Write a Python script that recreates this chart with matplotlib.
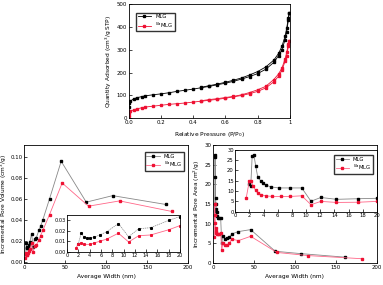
import matplotlib
matplotlib.use("Agg")
import matplotlib.pyplot as plt

# ---- Isotherm data ----
p_ads = [0.0, 0.005, 0.01, 0.03, 0.05, 0.08, 0.1, 0.15, 0.2, 0.25, 0.3, 0.35, 0.4, 0.45, 0.5, 0.55, 0.6, 0.65, 0.7, 0.75, 0.8, 0.85, 0.9, 0.93, 0.95, 0.97, 0.98, 0.99, 0.995]
mlg_ads = [50, 65, 75, 85, 90, 95, 98, 103, 107, 112, 118, 123, 128, 134, 140, 147, 154, 162, 172, 183, 196, 215, 245, 275, 300, 345, 380, 430, 460]
p_des = [0.995, 0.99, 0.98, 0.97, 0.95, 0.93, 0.9, 0.85, 0.8, 0.75, 0.7, 0.65, 0.6, 0.55, 0.5, 0.45]
mlg_des = [460, 440, 395, 360, 315, 285, 255, 225, 205, 190, 177, 167, 158, 150, 143, 136]
na_ads = [10, 22, 30, 37, 41, 46, 49, 53, 57, 61, 64, 67, 71, 75, 79, 83, 88, 94, 100, 108, 118, 133, 160, 185, 210, 250, 275, 315, 337]
na_des = [337, 325, 290, 260, 220, 195, 170, 140, 125, 113, 103, 96, 91, 86, 82, 77]

# ---- Pore volume (cm3/g) ----
w_mlg = [2.0, 2.5, 3.0, 3.5, 4.0, 4.8, 5.8, 7.0, 9.1, 10.9, 12.7, 14.8, 18.0, 20.0, 22.8, 31.0, 45.2, 75.8, 108.0, 173.0]
pv_mlg = [0.0077, 0.0177, 0.0143, 0.013, 0.013, 0.014, 0.016, 0.019, 0.027, 0.0143, 0.022, 0.023, 0.030, 0.0337, 0.040, 0.060, 0.0956, 0.0568, 0.063, 0.0546]
w_na = [1.6, 2.0, 2.4, 3.0, 4.0, 4.8, 5.8, 7.0, 9.1, 10.9, 12.7, 14.8, 18.0, 20.0, 22.8, 31.0, 46.4, 78.6, 116.5, 180.0]
pv_na = [0.0037, 0.0077, 0.0083, 0.007, 0.007, 0.0083, 0.010, 0.012, 0.0177, 0.0093, 0.0153, 0.016, 0.021, 0.025, 0.030, 0.045, 0.075, 0.053, 0.058, 0.048]

# ---- Pore area (m2/g) ----
wa_mlg = [1.9, 2.2, 2.4, 2.65, 2.9, 3.2, 3.6, 3.9, 4.4, 5.0, 6.2, 7.8, 9.4, 10.7, 12.1, 14.3, 17.4, 20.0, 23.0, 31.0, 46.0, 76.0, 107.0, 161.0]
pa_mlg = [13.2, 12.3, 27.0, 27.4, 22.0, 16.6, 15.0, 13.7, 12.9, 12.0, 11.5, 11.5, 11.5, 5.1, 6.9, 6.0, 6.3, 6.5, 7.4, 8.0, 8.5, 3.0, 2.4, 1.5]
wa_na = [1.55, 2.0, 2.25, 2.55, 2.9, 3.2, 3.7, 4.3, 5.2, 6.4, 7.8, 9.4, 10.7, 12.1, 14.3, 17.4, 20.0, 23.0, 31.0, 46.0, 78.0, 116.0, 182.0]
pa_na = [6.5, 14.9, 14.9, 12.3, 10.3, 8.9, 8.2, 7.7, 7.4, 7.4, 7.4, 7.7, 3.4, 5.0, 4.5, 4.6, 5.0, 6.1, 5.7, 6.8, 2.7, 1.9, 1.1]

label_mlg = "MLG"
label_na = "$^{Na}$MLG"

plt.rcParams["font.family"] = "DejaVu Sans"
plt.rcParams["font.size"] = 4.2
plt.rcParams["xtick.labelsize"] = 3.9
plt.rcParams["ytick.labelsize"] = 3.9
plt.rcParams["axes.linewidth"] = 0.6
plt.rcParams["xtick.direction"] = "in"
plt.rcParams["ytick.direction"] = "in"
plt.rcParams["xtick.major.size"] = 2
plt.rcParams["ytick.major.size"] = 2
plt.rcParams["xtick.major.width"] = 0.5
plt.rcParams["ytick.major.width"] = 0.5
plt.rcParams["xtick.major.pad"] = 1.5
plt.rcParams["ytick.major.pad"] = 1.2

RED = "#ee1133"
PINK = "#ff6688"
GRAY = "#888888"

fig = plt.figure(figsize=(3.83, 2.85), dpi=100)

# Top isotherm
ax1 = fig.add_axes([0.336, 0.585, 0.421, 0.40])
ax1.plot(p_ads, mlg_ads, color="black", marker="s", ms=1.8, lw=0.6, label=label_mlg)
ax1.plot(p_des, mlg_des, color="black", marker="s", ms=1.8, lw=0.6)
ax1.plot(p_ads, na_ads, color=RED, marker="s", ms=1.8, lw=0.6, label=label_na)
ax1.plot(p_des, na_des, color=RED, marker="s", ms=1.8, lw=0.6)
ax1.set_xlim(0, 1.0)
ax1.set_ylim(0, 500)
ax1.set_xticks([0.0, 0.2, 0.4, 0.6, 0.8, 1.0])
ax1.set_xticklabels(["0.0", "0.2", "0.4", "0.6", "0.8", "1"])
ax1.set_yticks([0, 100, 200, 300, 400, 500])
ax1.set_xlabel("Relative Pressure (P/P$_0$)", labelpad=3)
ax1.set_ylabel("Quantity Adsorbed (cm$^3$/g STP)", labelpad=2)
ax1.legend(loc="upper left", bbox_to_anchor=(0.03, 0.95), fontsize=3.8, frameon=True,
           fancybox=False, edgecolor="black", handlelength=2.5, borderpad=0.3, labelspacing=0.2)

# Bottom-left pore volume
ax2 = fig.add_axes([0.063, 0.077, 0.428, 0.414])
ax2.plot(w_mlg, pv_mlg, color=GRAY, marker="s", mfc="black", mec="black", ms=1.8, lw=0.6, label=label_mlg)
ax2.plot(w_na, pv_na, color=PINK, marker="s", mfc=RED, mec=RED, ms=1.8, lw=0.6, label=label_na)
ax2.set_xlim(0, 200)
ax2.set_ylim(-0.001, 0.111)
ax2.set_xticks([0, 50, 100, 150, 200])
ax2.set_yticks([0.0, 0.02, 0.04, 0.06, 0.08, 0.10])
ax2.set_yticklabels(["0.00", "0.02", "0.04", "0.06", "0.08", "0.10"])
ax2.set_xlabel("Average Width (nm)", labelpad=3)
ax2.set_ylabel("Incremental Pore Volume (cm$^3$/g)", labelpad=1)
ax2.legend(loc="upper right", bbox_to_anchor=(0.99, 0.96), fontsize=3.8, frameon=True,
           fancybox=False, edgecolor="black", handlelength=2.5, borderpad=0.3, labelspacing=0.2)

ax2i = fig.add_axes([0.175, 0.117, 0.295, 0.128])
ax2i.plot(w_mlg, pv_mlg, color=GRAY, marker="s", mfc="black", mec="black", ms=1.2, lw=0.5, ls=(0, (2, 1)))
ax2i.plot(w_na, pv_na, color=PINK, marker="s", mfc=RED, mec=RED, ms=1.2, lw=0.6)
ax2i.set_xlim(0, 20)
ax2i.set_ylim(0, 0.035)
ax2i.set_xticks(list(range(0, 21, 2)))
ax2i.set_yticks([0.0, 0.01, 0.02, 0.03])
ax2i.set_yticklabels(["0.00", "0.01", "0.02", "0.03"])
ax2i.tick_params(labelsize=3.6, pad=1)

# Bottom-right pore area
ax3 = fig.add_axes([0.556, 0.077, 0.428, 0.414])
ax3.plot(wa_mlg, pa_mlg, color=GRAY, marker="s", mfc="black", mec="black", ms=1.8, lw=0.6)
ax3.plot(wa_na, pa_na, color=PINK, marker="s", mfc=RED, mec=RED, ms=1.8, lw=0.6)
ax3.set_xlim(0, 200)
ax3.set_ylim(0, 30)
ax3.set_xticks([0, 50, 100, 150, 200])
ax3.set_yticks([0, 5, 10, 15, 20, 25, 30])
ax3.set_xlabel("Average Width (nm)", labelpad=3)
ax3.set_ylabel("Incremental Pore Area (m$^2$/g)", labelpad=2)

ax3i = fig.add_axes([0.614, 0.257, 0.370, 0.218])
ax3i.plot(wa_mlg, pa_mlg, color=GRAY, marker="s", mfc="black", mec="black", ms=1.5, lw=0.6, label=label_mlg)
ax3i.plot(wa_na, pa_na, color=PINK, marker="s", mfc=RED, mec=RED, ms=1.5, lw=0.6, label=label_na)
ax3i.set_xlim(0, 20)
ax3i.set_ylim(0, 30)
ax3i.set_xticks(list(range(0, 21, 2)))
ax3i.set_yticks([0, 5, 10, 15, 20, 25, 30])
ax3i.tick_params(labelsize=3.8, pad=1)
ax3i.legend(loc="upper right", bbox_to_anchor=(0.99, 0.95), fontsize=3.8, frameon=True,
            fancybox=False, edgecolor="black", handlelength=2.5, borderpad=0.3, labelspacing=0.2)

fig.savefig("out.png", dpi=100)
